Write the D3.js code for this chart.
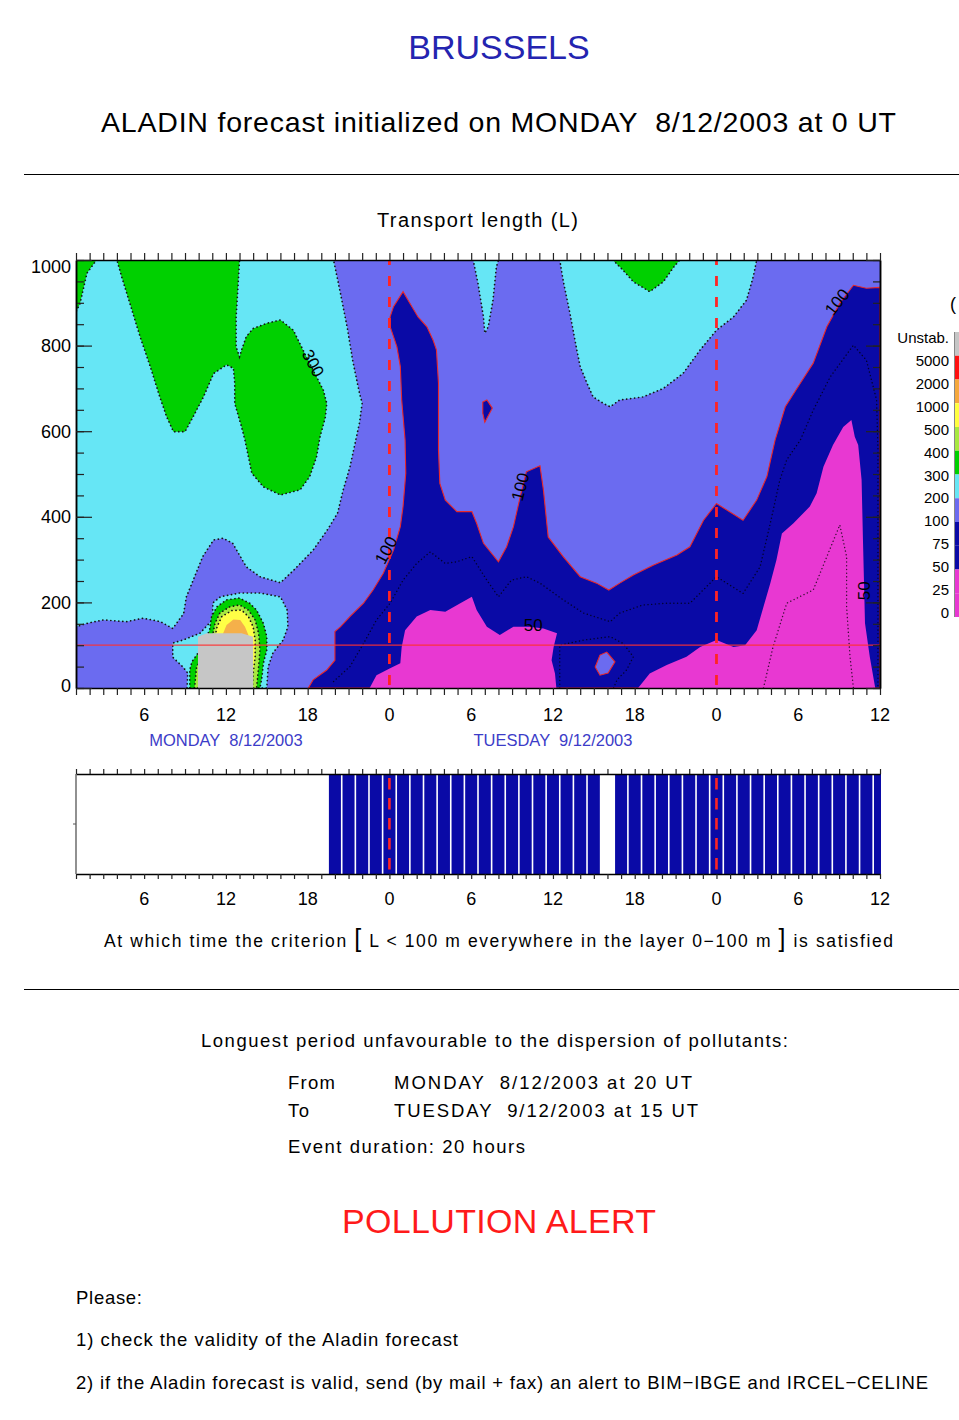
<!DOCTYPE html>
<html><head><meta charset="utf-8">
<script src="https://cdn.jsdelivr.net/npm/d3@7"></script>
<style>
html,body{margin:0;padding:0;background:#fff;}
svg{display:block;font-family:"Liberation Sans",Arial,sans-serif;}
text{white-space:pre;}
</style></head><body>
<svg id="c" width="959" height="1420"></svg>
<script>
// ---------------- DATA ----------------
// time axis in hours since Monday 0 UT (1..60), height in metres (0..1000)
const xTickHours  = [6,12,18,24,30,36,42,48,54,60];
const xTickLabels = ["6","12","18","0","6","12","18","0","6","12"];
const yTickValues = [0,200,400,600,800,1000];
const dayLabels   = ["MONDAY  8/12/2003","TUESDAY  9/12/2003"];
const dayLabelHours = [12,36];
const dayMarkers  = [24,48];
const lLimit = 100; // criterion height (m)

// transport-length class regions (hour, height)
const cyanLeft = [[1,1000],[19.9,1000],[20.4,923],[20.9,843],[21.3,766],[21.8,689],[22.0,666],[21.8,619],[21.5,575],[21.1,516],[20.6,462],[20.2,409],[19.5,372],[18.4,322],[17.0,276],[16.0,246],[14.5,260],[13.5,283],[12.5,338],[11.8,350],[11.1,346],[10.3,307],[9.6,252],[9.1,213],[8.9,174],[8.1,139],[7.2,155],[5.9,163],[4.7,155],[3.0,159],[1.8,151],[1,143]];
const cyanTR = [[36.5,1000],[36.75,952],[37.25,875],[37.75,790],[38.0,751],[38.5,712],[38.95,680],[39.7,665],[40.2,657],[40.9,673],[42.6,680],[44.1,700],[45.55,735],[46.8,790],[48.0,836],[49.25,867],[50.2,906],[50.7,961],[50.95,1000]];
const cyanNotch = [[30.15,1000],[30.5,945],[30.9,867],[31.0,829],[31.25,844],[31.6,906],[31.85,984],[32.0,1000]];
const greenTL = [[1,1000],[2.5,1000],[1.8,969],[1.3,899],[1,879]];
const greenBig = [[4.0,1000],[13.0,1000],[12.9,945],[12.75,867],[12.75,797],[13.0,774],[13.15,790],[13.5,821],[14.0,840],[15.0,852],[16.0,860],[16.95,836],[17.9,774],[18.65,727],[19.15,696],[19.4,665],[19.3,633],[18.9,586],[18.65,540],[18.15,494],[17.45,463],[16.0,451],[14.75,470],[13.9,502],[13.4,579],[13.15,610],[12.65,665],[12.65,712],[12.55,747],[12.05,755],[11.1,735],[10.35,680],[9.6,634],[9.0,599],[8.15,599],[7.65,634],[7.15,680],[6.45,751],[5.7,821],[4.95,899],[4.35,961]];
const greenTop = [[40.4,1000],[41.15,976],[41.9,949],[43.1,926],[44.1,949],[44.85,983],[45.3,1000]];
const cyanRing = [[9.15,0],[9.2,35],[8.85,49],[8.1,72],[8.1,105],[8.85,112],[10.1,128],[11.0,159],[11.05,199],[11.6,213],[13.0,222],[14.5,222],[16.0,213],[16.5,182],[16.55,143],[16.2,112],[15.45,82],[15.1,49],[15.0,0]];
const greenRing = [[9.35,0],[9.35,42],[9.5,61],[9.85,77],[10.2,93],[10.8,135],[10.95,167],[11.35,190],[12.05,206],[13.0,210],[13.75,198],[14.25,182],[14.75,151],[15.0,120],[15.0,89],[14.75,58],[14.65,26],[14.5,0]];
const yellowGreen = [[9.7,0],[9.85,50],[10.35,73],[10.95,112],[11.2,151],[11.55,175],[12.3,190],[13.0,194],[13.65,182],[14.15,159],[14.4,128],[14.5,89],[14.4,50],[14.25,0]];
const yellow = [[10.0,0],[10.1,42],[10.6,73],[11.1,104],[11.35,143],[11.7,167],[12.45,181],[13.15,182],[13.65,167],[14.0,143],[14.15,112],[14.15,73],[14.0,34],[13.95,0]];
const orange = [[11.55,100],[11.8,128],[12.05,147],[12.55,160],[13.05,159],[13.4,143],[13.65,124],[13.65,100]];
const unstable = [[9.95,0],[9.95,120],[10.6,128],[13.15,128],[14.0,120],[14.0,0]];
const navyMain = [[18.05,0],[18.4,19],[19.4,42],[20.0,65],[20.0,132],[20.4,143],[21.1,167],[22.1,198],[22.8,229],[23.55,268],[24.3,322],[24.8,377],[25.0,424],[25.2,502],[25.15,579],[24.9,673],[24.8,751],[24.55,797],[24.3,821],[24.05,844],[24.05,867],[24.3,891],[25.0,926],[25.5,899],[26.1,867],[26.75,844],[27.2,813],[27.45,790],[27.6,712],[27.6,556],[27.7,478],[28.1,439],[28.95,412],[30.05,412],[30.4,385],[30.9,338],[32.0,295],[32.6,330],[33.1,377],[33.6,447],[34.05,505],[35.05,519],[35.3,463],[35.65,353],[36.75,307],[38.0,260],[39.2,245],[40.1,229],[40.9,245],[41.9,264],[43.35,287],[45.1,311],[46.05,330],[47.05,392],[48.0,431],[49.95,392],[50.95,439],[51.7,494],[52.3,579],[53.05,657],[54.15,712],[55.1,759],[56.1,844],[57.05,899],[58.05,941],[59.0,934],[60,936],[60,0]];
const periIsland = [[39.1,49],[39.45,77],[39.95,84],[40.55,61],[40.05,35],[39.45,30]];
const navyIsland = [[30.85,668],[31.15,673],[31.55,654],[31.0,621],[30.85,642]];
const pinkMid = [[22.55,0],[23.05,30],[24.05,46],[24.8,58],[24.9,96],[25.15,135],[26.0,167],[27.0,182],[28.1,178],[29.2,198],[30.05,213],[30.4,182],[31.15,143],[32.1,124],[33.1,143],[34.3,143],[35.3,139],[36.3,128],[36.05,96],[35.9,65],[36.15,34],[36.25,0]];
const pinkRight = [[42.25,0],[43.1,34],[44.35,54],[45.8,73],[46.8,96],[48.0,112],[49.25,96],[50.1,100],[50.95,135],[51.45,190],[51.95,245],[52.4,299],[52.8,361],[53.65,385],[54.85,424],[55.35,455],[55.85,517],[56.55,568],[57.3,610],[57.9,626],[58.15,587],[58.4,568],[58.65,486],[58.75,346],[58.9,151],[59.25,73],[59.65,0]];
// open contour lines
const c75a = [[19.9,15],[21.1,50],[22.1,104],[23.05,159],[24.05,198],[25.0,252],[26.0,291],[27.0,318],[28.1,291],[28.95,295],[30.05,307],[31.15,252],[32.0,213],[32.95,252],[34.05,260],[35.05,245],[36.75,206],[38.25,175],[40.2,155],[40.9,175],[42.6,194],[44.35,198],[46.05,198],[48.0,260],[49.95,221],[51.2,283],[51.95,385],[52.65,486],[53.15,533],[54.15,579],[55.1,649],[56.35,727],[58.05,801],[59.0,766],[59.75,673],[59.85,556],[59.85,0]];
const c75b = [[36.5,0],[36.5,100],[38.25,112],[40.2,120],[41.15,104],[41.9,73],[41.4,42],[40.7,19],[40.45,0]];
const c25 = [[51.45,0],[52.15,96],[53.15,198],[55.1,229],[56.1,307],[57.05,381],[57.55,307],[57.55,190],[57.8,73],[58.05,0]];
const contourLabels = ["300","100","100","100","50","50"];
const contourLabelHours = [18.4,23.75,33.6,56.85,34.55,58.85];
const contourLabelHeights = [759,322,470,902,147,227];
const contourLabelAngles = [62,-62,-76,-52,0,-90];

// criterion satisfied (1) for each hour 1..60
const criterionFlags = [0,0,0,0,0,0,0,0,0,0,0,0,0,0,0,0,0,0,0,
  1,1,1,1,1,1,1,1,1,1,1,1,1,1,1,1,1,1,1,1,
  0,
  1,1,1,1,1,1,1,1,1,1,1,1,1,1,1,1,1,1,1,1];

// colour bar
const legendLabels = ["Unstab.","5000","2000","1000","500","400","300","200","100","75","50","25","0"];
const legendColors = ["#c6c6c6","#ff1010","#f5a83c","#ffff40","#a8e840","#00d000","#66e6f5","#6b6bf0","#0a0aa6","#0a0aa6","#e838d2","#e838d2"];

// ---------------- DRAW ----------------
const COL = {peri:"#6b6bf0",cyan:"#66e6f5",green:"#00d000",ygreen:"#a8e840",yellow:"#ffff46",orange:"#f5b04a",gray:"#c6c6c6",navy:"#0a0aa6",pink:"#e838d2",red:"#ff2424"};
const svg = d3.select("#c");
const x = d3.scaleLinear().domain([1,60]).range([76,880]);
const y = d3.scaleLinear().domain([0,1000]).range([688,260]);
const yb = d3.scaleLinear().domain([0,1]).range([874,774]);
const line = d3.line().x(d=>x(d[0])).y(d=>y(d[1]));
const poly = p => line(p)+"Z";

// titles
svg.append("text").attr("x",499).attr("y",59).attr("text-anchor","middle").attr("font-size",34).attr("fill","#2424b0").text("BRUSSELS");
svg.append("text").attr("x",101).attr("y",132).attr("font-size",28.5).attr("textLength",795).attr("lengthAdjust","spacing").text("ALADIN forecast initialized on MONDAY  8/12/2003 at 0 UT");
svg.append("line").attr("x1",24).attr("x2",959).attr("y1",174.5).attr("y2",174.5).attr("stroke","#000").attr("stroke-width",1.2);
svg.append("text").attr("x",377).attr("y",227).attr("font-size",20).attr("textLength",201).attr("lengthAdjust","spacing").text("Transport length (L)");

// clip
const defs = svg.append("defs");
defs.append("clipPath").attr("id","pc").append("rect").attr("x",76).attr("y",260).attr("width",804).attr("height",428);
defs.append("clipPath").attr("id","bc").append("rect").attr("x",76).attr("y",774).attr("width",805).attr("height",100);

const g = svg.append("g").attr("clip-path","url(#pc)");
g.append("rect").attr("x",x(1)).attr("y",y(1000)).attr("width",x(60)-x(1)).attr("height",y(0)-y(1000)).attr("fill",COL.peri);

const dotted = sel => sel.attr("stroke","#151515").attr("stroke-width",1.7).attr("stroke-dasharray","0.1 3.9").attr("stroke-linecap","round");
const layers = [
  {p:cyanLeft,f:COL.cyan,s:"dot"},{p:cyanTR,f:COL.cyan,s:"dot"},{p:cyanNotch,f:COL.cyan,s:"dot"},
  {p:greenTL,f:COL.green,s:"dot"},{p:greenBig,f:COL.green,s:"dot"},{p:greenTop,f:COL.green,s:"dot"},
  {p:cyanRing,f:COL.cyan,s:"dot"},{p:greenRing,f:COL.green,s:"dot"},{p:yellowGreen,f:COL.ygreen,s:"dot"},
  {p:yellow,f:COL.yellow,s:"dot"},{p:orange,f:COL.orange,s:"none"},{p:unstable,f:COL.gray,s:"none"},
  {p:navyMain,f:COL.navy,s:"red"},{p:periIsland,f:COL.peri,s:"red"},{p:navyIsland,f:COL.navy,s:"red"},
  {p:pinkMid,f:COL.pink,s:"none"},{p:pinkRight,f:COL.pink,s:"none"}
];
layers.forEach(L=>{
  const el = g.append("path").attr("d",poly(L.p)).attr("fill",L.f);
  if(L.s==="dot") dotted(el);
  else if(L.s==="red") el.attr("stroke","#e8282a").attr("stroke-width",1.1);
  else el.attr("stroke","none");
});
[c75a,c75b,c25].forEach(c=>{
  g.append("path").attr("d",line(c)).attr("fill","none").attr("stroke","#000").attr("stroke-width",1.4).attr("stroke-dasharray","0.1 3.6").attr("stroke-linecap","round").attr("opacity",0.75);
});

// criterion line + day markers
g.append("line").attr("x1",x(1)).attr("x2",x(60)).attr("y1",y(lLimit)).attr("y2",y(lLimit)).attr("stroke","#ff3030").attr("stroke-width",1.2).attr("opacity",0.9);
dayMarkers.forEach(h=>{
  g.append("line").attr("x1",x(h)).attr("x2",x(h)).attr("y1",y(1000)).attr("y2",y(0)).attr("stroke",COL.red).attr("stroke-width",2.8).attr("stroke-dasharray","10 11").attr("stroke-dashoffset",5);
});

// contour labels
contourLabels.forEach((t,i)=>{
  const px = x(contourLabelHours[i]), py = y(contourLabelHeights[i]);
  svg.append("text").attr("transform",`translate(${px},${py}) rotate(${contourLabelAngles[i]})`).attr("text-anchor","middle").attr("dy","0.35em").attr("font-size",17).attr("fill","#000").text(t);
});

// frame and ticks
const hourTicks = d3.range(1,61);
svg.append("g").attr("transform","translate(0,260)").call(d3.axisTop(x).tickValues(hourTicks).tickSize(7).tickSizeOuter(0).tickFormat(""));
svg.append("g").attr("transform","translate(0,688)").call(d3.axisBottom(x).tickValues(hourTicks).tickSize(7).tickSizeOuter(0).tickFormat(""));
const yMinor = d3.range(0,1001,50);
svg.append("g").attr("transform","translate(76,0)").call(d3.axisLeft(y).tickValues(yMinor).tickSize(-8).tickSizeOuter(0).tickFormat(""));
svg.append("g").attr("transform","translate(76,0)").call(d3.axisLeft(y).tickValues(yTickValues).tickSize(-16).tickSizeOuter(0).tickFormat(""));
svg.append("g").attr("transform","translate(880,0)").call(d3.axisRight(y).tickValues(yMinor).tickSize(-7).tickSizeOuter(0).tickFormat(""));
svg.append("g").attr("transform","translate(880,0)").call(d3.axisRight(y).tickValues(yTickValues).tickSize(-14).tickSizeOuter(0).tickFormat(""));
svg.selectAll(".domain").attr("stroke","#000").attr("stroke-width",1.5);
svg.selectAll(".tick line").attr("stroke","#222").attr("stroke-width",1.2);

svg.append("g").selectAll("text").data(yTickValues).join("text")
  .attr("x",71).attr("y",d=>y(d)+6.5+(d===1000?6:0)+(d===0?-3:0)).attr("text-anchor","end").attr("font-size",18).text(d=>d);
svg.append("g").selectAll("text").data(xTickHours).join("text")
  .attr("x",d=>x(d)).attr("y",721).attr("text-anchor","middle").attr("font-size",18).text((d,i)=>xTickLabels[i]);
svg.append("g").selectAll("text").data(dayLabels).join("text")
  .attr("x",(d,i)=>x(dayLabelHours[i])).attr("y",746).attr("text-anchor","middle").attr("font-size",16.5).attr("fill","#3c3cc8").text(d=>d);

// legend (colour bar at the page edge)
const ly = d3.scaleLinear().domain([0,12]).range([332,617]);
svg.append("g").selectAll("rect").data(legendColors).join("rect")
  .attr("x",954.5).attr("y",(d,i)=>ly(i)).attr("width",6).attr("height",(d,i)=>ly(i+1)-ly(i)).attr("fill",d=>d);
svg.append("line").attr("x1",954.5).attr("x2",954.5).attr("y1",332).attr("y2",617).attr("stroke","#888").attr("stroke-width",1);
const lt = d3.scaleLinear().domain([0,12]).range([343,618]);
svg.append("g").selectAll("text").data(legendLabels).join("text")
  .attr("x",949).attr("y",(d,i)=>lt(i)).attr("text-anchor","end").attr("font-size",15).text(d=>d);
svg.append("text").attr("x",950).attr("y",310).attr("font-size",18).text("(");

// ---------------- criterion bar chart ----------------
const bg = svg.append("g").attr("clip-path","url(#bc)");
const hourly = criterionFlags.map((f,i)=>({h:i+1,f:f}));
bg.selectAll("rect").data(hourly.filter(d=>d.f===1)).join("rect")
  .attr("x",d=>x(d.h-0.5)+0.8).attr("width",d=>x(d.h+0.5)-x(d.h-0.5)-1.6)
  .attr("y",yb(1)).attr("height",yb(0)-yb(1)).attr("fill",COL.navy);
dayMarkers.forEach(h=>{
  bg.append("line").attr("x1",x(h)).attr("x2",x(h)).attr("y1",778).attr("y2",874).attr("stroke",COL.red).attr("stroke-width",2.6).attr("stroke-dasharray","11.5 8.5");
});
svg.append("g").attr("transform","translate(0,774)").call(d3.axisTop(x).tickValues(hourTicks).tickSize(5).tickSizeOuter(0).tickFormat(""));
svg.append("g").attr("transform","translate(0,874)").call(d3.axisBottom(x).tickValues(hourTicks).tickSize(5).tickSizeOuter(0).tickFormat(""));
svg.append("line").attr("x1",76).attr("x2",76).attr("y1",774).attr("y2",874).attr("stroke","#555").attr("stroke-width",1.3);
svg.append("line").attr("x1",73).attr("x2",76).attr("y1",yb(0.5)).attr("y2",yb(0.5)).attr("stroke","#555");
svg.selectAll(".domain").attr("stroke","#000").attr("stroke-width",1.5);
svg.selectAll(".tick line").attr("stroke","#222").attr("stroke-width",1.2);
svg.append("g").selectAll("text").data(xTickHours).join("text")
  .attr("x",d=>x(d)).attr("y",905).attr("text-anchor","middle").attr("font-size",18).text((d,i)=>xTickLabels[i]);

// criterion sentence
const crit = svg.append("text").attr("x",104).attr("y",947).attr("font-size",17.5).attr("textLength",789).attr("lengthAdjust","spacing");
crit.append("tspan").text("At which time the criterion ");
crit.append("tspan").attr("font-size",25).text("[");
crit.append("tspan").text(" L < 100 m everywhere in the layer 0\u2212100 m ");
crit.append("tspan").attr("font-size",25).text("]");
crit.append("tspan").text(" is satisfied");
svg.append("line").attr("x1",24).attr("x2",959).attr("y1",989.5).attr("y2",989.5).attr("stroke","#000").attr("stroke-width",1.2);

// summary
const T = (s,x0,y0,fs,len,col)=>{const t=svg.append("text").attr("x",x0).attr("y",y0).attr("font-size",fs).attr("fill",col||"#000").text(s); if(len) t.attr("textLength",len).attr("lengthAdjust","spacing"); return t;};
T("Longuest period unfavourable to the dispersion of pollutants:",201,1047,18.5,587);
T("From",288,1089,18.5,47);
T("MONDAY  8/12/2003 at 20 UT",394,1089,18.5,298);
T("To",288,1117,18.5,21);
T("TUESDAY  9/12/2003 at 15 UT",394,1117,18.5,304);
T("Event duration: 20 hours",288,1153,18.5,237);
T("POLLUTION ALERT",342,1233,34,314,"#ff1a1a");
T("Please:",76,1304,18.5,66);
T("1) check the validity of the Aladin forecast",76,1346,18.5,382);
T("2) if the Aladin forecast is valid, send (by mail + fax) an alert to BIM\u2212IBGE and IRCEL\u2212CELINE",76,1389,18.5,852);
</script>
</body></html>
